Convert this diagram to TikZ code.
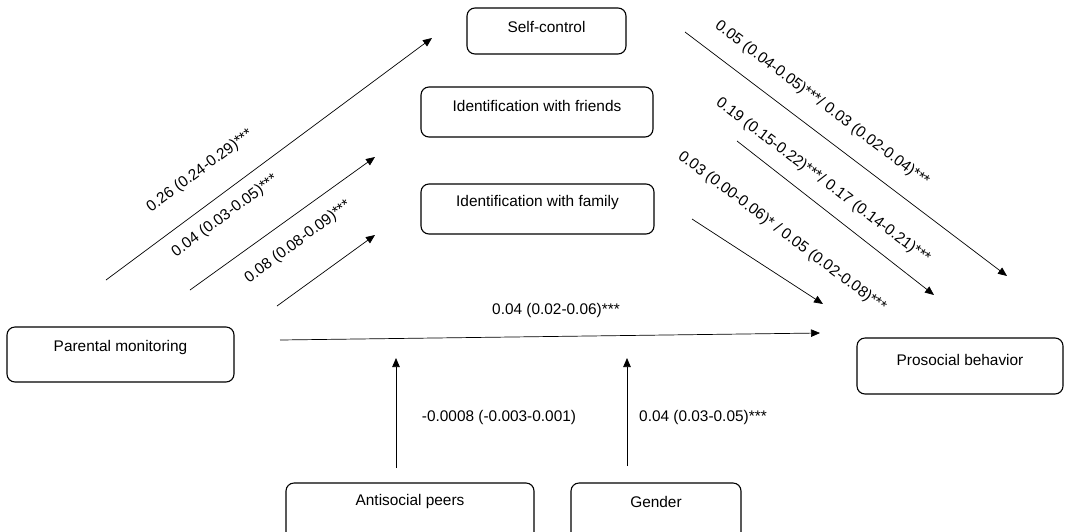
\documentclass[tikz,border=0pt]{standalone}
\usepackage{fontspec}
\setmainfont{Liberation Sans}
\usetikzlibrary{arrows.meta}
\begin{document}
\begin{tikzpicture}[x=1pt,y=-1pt,
  font=\fontsize{15.4}{18}\selectfont,
  boxshape/.style={draw=black,line width=1.1pt,rounded corners=8pt},
  txt/.style={inner sep=0pt,anchor=center},
  lbl/.style={inner sep=0pt,anchor=center},
  arr/.style={draw=black,line width=0.7pt,-{Triangle[length=9pt,width=7.5pt]}}]
\useasboundingbox (0,0) rectangle (1065,531);
\clip (0,0) rectangle (1065,531);
% boxes
\path[boxshape] (467,8) rectangle (626,54);
\path[boxshape] (421,87) rectangle (653,137);
\path[boxshape] (421,184) rectangle (654,234);
\path[boxshape] (7,327) rectangle (234,382);
\path[boxshape] (857,338) rectangle (1063,394);
\path[boxshape] (286,483) rectangle (534,545);
\path[boxshape] (571,483) rectangle (741,545);
% box texts
\node[txt] (sc) at (546.5,27) {Self-control};
\node[txt] (fr) at (537,106) {Identification with friends};
\node[txt] (fa) at (537.5,203) {Identification with family};
\node[txt] (pm) at (120.5,348) {Parental monitoring};
\node[txt] (pb) at (960,360) {Prosocial behavior};
\node[txt] (ap) at (410,502) {Antisocial peers};
\node[txt] (ge) at (656,502) {Gender};
% arrow end points
\coordinate (a1s) at (106,280); \coordinate (a1e) at (432,38);
\coordinate (a2s) at (190,290); \coordinate (a2e) at (375,157);
\coordinate (a3s) at (277,306); \coordinate (a3e) at (375,235);
\coordinate (b1s) at (685,32);  \coordinate (b1e) at (1007,276);
\coordinate (b2s) at (737,141); \coordinate (b2e) at (934,295);
\coordinate (b3s) at (692,219); \coordinate (b3e) at (823,304);
\coordinate (ds) at (280,340);  \coordinate (de) at (820,333);
\coordinate (v1s) at (396,468); \coordinate (v1e) at (396,358);
\coordinate (v2s) at (627,466); \coordinate (v2e) at (627,358);
\draw[arr] (a1s) -- (a1e);
\draw[arr] (a2s) -- (a2e);
\draw[arr] (a3s) -- (a3e);
\draw[arr] (b1s) -- (b1e);
\draw[arr] (b2s) -- (b2e);
\draw[arr] (b3s) -- (b3e);
\draw[arr] (ds) -- (de);
\draw[arr] (v1s) -- (v1e);
\draw[arr] (v2s) -- (v2e);
% labels
\node[lbl,rotate=36.6] (la1) at (200,171) {0.26 (0.24-0.29)***};
\node[lbl,rotate=36.6] (la2) at (225,216) {0.04 (0.03-0.05)***};
\node[lbl,rotate=36.6] (la3) at (298,242) {0.08 (0.08-0.09)***};
\node[lbl,rotate=-37] (lb1) at (822,104) {0.05 (0.04-0.05)***/ 0.03 (0.02-0.04)***};
\node[lbl,rotate=-37] (lb2) at (823,181) {0.19 (0.15-0.22)***/ 0.17 (0.14-0.21)***};
\node[lbl,rotate=-37] (lb3) at (782,232) {0.03 (0.00-0.06)* / 0.05 (0.02-0.08)***};
\node[lbl] (ld) at (556,311) {0.04 (0.02-0.06)***};
\node[lbl] (lv1) at (499,418) {-0.0008 (-0.003-0.001)};
\node[lbl] (lv2) at (703,418) {0.04 (0.03-0.05)***};
\end{tikzpicture}
\end{document}
